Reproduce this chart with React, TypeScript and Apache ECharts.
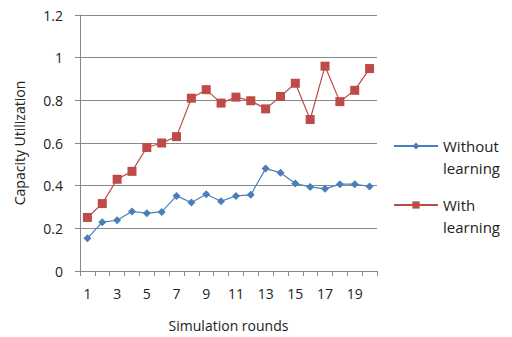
import React, { useEffect, useRef } from "react";
import * as echarts from "echarts";

const rounds = Array.from({ length: 20 }, (_, i) => String(i + 1));
const withoutLearning = [0.153, 0.229, 0.238, 0.279, 0.271, 0.277, 0.352, 0.321, 0.36, 0.327, 0.352, 0.357, 0.48, 0.461, 0.41, 0.394, 0.385, 0.407, 0.407, 0.396];
const withLearning = [0.251, 0.316, 0.43, 0.467, 0.579, 0.6, 0.63, 0.81, 0.85, 0.787, 0.815, 0.798, 0.76, 0.818, 0.88, 0.71, 0.96, 0.794, 0.847, 0.949];

const FONT = "'Open Sans', 'Liberation Sans', sans-serif";

const legendBase = {
  orient: "vertical",
  left: 393,
  padding: 0,
  itemWidth: 44,
  itemHeight: 9,
  textStyle: { fontFamily: FONT, fontSize: 15, color: "#222", lineHeight: 22 },
  formatter: (name: string) => " \n" + name.replace(" ", "\n"),
};

export default function App() {
  const ref = useRef<HTMLDivElement>(null);
  useEffect(() => {
    document.body.style.margin = "0";
    const chart = echarts.init(ref.current!, null, { renderer: "svg" });
    chart.setOption({
      animation: false,
      backgroundColor: "#ffffff",
      grid: { left: 80, right: 135, top: 15, bottom: 65 },
      legend: [
        { ...legendBase, top: 113, data: ["Without learning"] },
        { ...legendBase, top: 172, data: ["With learning"] },
      ],
      xAxis: {
        type: "category",
        data: rounds,
        boundaryGap: true,
        name: "Simulation rounds",
        nameLocation: "middle",
        nameGap: 47,
        nameTextStyle: { fontFamily: FONT, fontSize: 14, color: "#222" },
        axisLine: { lineStyle: { color: "#888", width: 1 } },
        axisTick: { show: true, interval: 0, length: 5, lineStyle: { color: "#888" } },
        axisLabel: { interval: 1, fontFamily: FONT, fontSize: 14, color: "#222", margin: 15 },
        splitLine: { show: false },
      },
      yAxis: {
        type: "value",
        min: 0,
        max: 1.2,
        interval: 0.2,
        name: "Capacity Utilization",
        nameLocation: "middle",
        nameGap: 54,
        nameTextStyle: { fontFamily: FONT, fontSize: 14, color: "#222" },
        axisLine: { show: true, lineStyle: { color: "#888", width: 1 } },
        axisTick: { show: true, length: 5, lineStyle: { color: "#888" } },
        axisLabel: { fontFamily: FONT, fontSize: 14, color: "#222", margin: 17 },
        splitLine: { lineStyle: { color: "#888", width: 1 } },
      },
      series: [
        {
          name: "Without learning",
          type: "line",
          data: withoutLearning,
          symbol: "diamond",
          symbolSize: 8,
          color: "#4a7ebb",
          lineStyle: { width: 1.2, color: "#4a7ebb" },
          itemStyle: { color: "#4a7ebb" },
        },
        {
          name: "With learning",
          type: "line",
          data: withLearning,
          symbol: "rect",
          symbolSize: 9,
          color: "#be4b48",
          lineStyle: { width: 1.2, color: "#be4b48" },
          itemStyle: { color: "#be4b48" },
        },
      ],
    });
    return () => chart.dispose();
  }, []);
  return <div ref={ref} style={{ width: 512, height: 337 }} />;
}
